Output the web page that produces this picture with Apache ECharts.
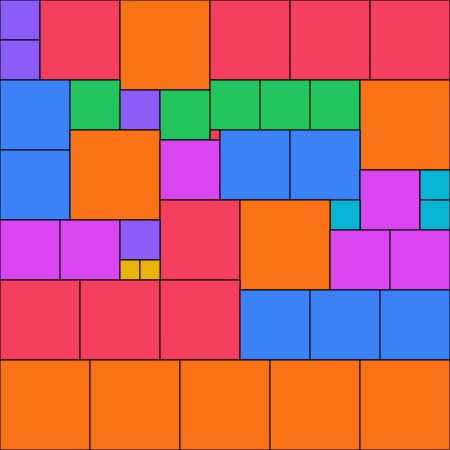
<!DOCTYPE html>
<html>
<head>
<meta charset="utf-8">
<script src="https://cdn.jsdelivr.net/npm/echarts@6/dist/echarts.min.js"></script>
<style>html,body{margin:0;padding:0;background:#fff}#c{width:450px;height:450px}</style>
</head>
<body>
<div id="c"></div>
<script>
// Mosaic of squares on a 45 x 45 grid (units of 10 px)
const cols  = [0,0,4,12,21,29,37, 0,0,7,12,16,21,26,31,36, 7,21,16,22,29,36,42,42,33,16,24, 0,6,12,12,14,33,39, 0,8,16,24,31,38, 0,9,18,27,36];
const rows  = [0,4,0,0,0,0,0, 8,15,8,9,9,8,8,8,8, 13,13,14,13,13,17,17,20,20,20,20, 22,22,22,26,26,23,23, 28,28,28,29,29,29, 36,36,36,36,36];
const sides = [4,4,8,9,8,8,8, 7,7,5,4,5,5,5,5,9, 9,1,6,7,7,6,3,3,3,8,9, 6,6,4,2,2,6,6, 8,8,8,7,7,7, 9,9,9,9,9];
const groups = ['p','p','r','o','r','r','r', 'b','b','g','p','g','g','g','g','o', 'o','r','m','b','b','m','c','c','c','r','o', 'm','m','p','y','y','m','m', 'r','r','r','b','b','b', 'o','o','o','o','o'];
const palette = {r:'#f43f5e', o:'#f97316', p:'#8b5cf6', b:'#3b82f6', g:'#22c55e', m:'#d946ef', c:'#06b6d4', y:'#eab308'};
const gridSize = 45;

const data = cols.map((c, i) => [c, rows[i], sides[i], i]);

const chart = echarts.init(document.getElementById('c'), null, {renderer: 'canvas'});
chart.setOption({
  animation: false,
  grid: {left: 0, right: 0, top: 0, bottom: 0},
  xAxis: {type: 'value', min: 0, max: gridSize, show: false},
  yAxis: {type: 'value', min: 0, max: gridSize, inverse: true, show: false},
  series: [{
    type: 'custom',
    data: data,
    renderItem: function (params, api) {
      const x = api.value(0), y = api.value(1), s = api.value(2), idx = api.value(3);
      const p0 = api.coord([x, y]);
      const p1 = api.coord([x + s, y + s]);
      return {
        type: 'rect',
        shape: {x: p0[0], y: p0[1], width: p1[0] - p0[0], height: p1[1] - p0[1]},
        style: {fill: palette[groups[idx]], stroke: '#000', lineWidth: 1}
      };
    }
  }]
});
</script>
</body>
</html>
